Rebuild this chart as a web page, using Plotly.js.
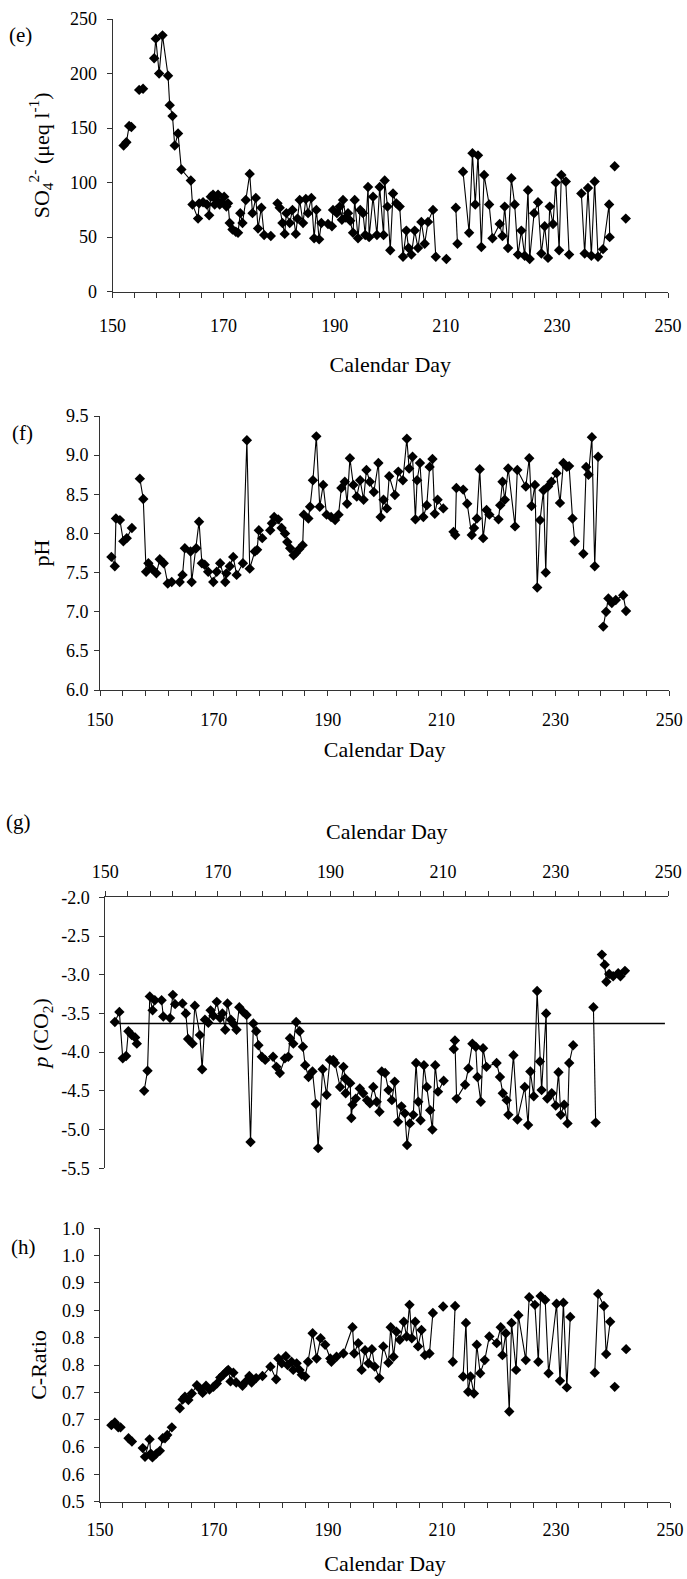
<!DOCTYPE html>
<html><head><meta charset="utf-8">
<script src="https://cdn.plot.ly/plotly-3.0.1.min.js"></script>
<style>html,body{margin:0;padding:0;background:#fff}#chart{width:687px;height:1579px}</style>
</head><body><div id="chart"></div>
<script>
// ---------- (e) sulfate ----------
const so4Day = [
 152.0,152.5,153.0,153.4,null,154.8,155.5,null,157.5,157.8,
 158.4,159.0,160.0,160.3,160.8,161.2,161.8,162.4,164.1,164.4,
 165.4,165.6,166.3,167.0,167.4,167.7,168.1,168.4,168.7,169.0,
 169.3,169.6,170.1,170.5,170.8,171.1,171.6,172.2,172.6,173.0,
 173.4,174.0,174.7,175.2,175.8,176.2,176.8,177.3,178.5,null,
 179.7,180.1,180.6,181.0,181.3,181.9,182.4,183.0,183.3,183.7,
 184.3,184.8,185.2,185.8,186.3,186.7,187.2,187.6,188.8,189.5,
 189.7,190.4,190.9,191.3,191.5,192.0,192.4,192.8,193.3,193.6,
 194.2,194.6,195.1,195.5,196.0,196.2,196.9,197.6,198.1,198.8,
 199.0,199.5,200.0,200.5,201.1,201.7,202.3,202.9,203.3,203.8,
 204.4,205.0,205.6,206.2,206.8,207.7,208.2,null,210.1,null,
 211.8,212.1,null,213.1,214.2,214.8,215.3,215.8,216.4,216.9,
 217.8,218.4,219.7,220.2,220.6,221.2,221.8,222.4,223.0,223.6,
 224.2,224.8,225.1,225.9,226.6,227.2,227.8,228.4,228.7,229.3,
 229.8,230.4,230.8,231.6,232.2,null,234.4,235.0,235.6,236.2,
 236.8,237.4,238.3,239.4,239.5,null,240.4,null,242.4
];
const so4Val = [
 134,137,152,151,null,185,186,null,214,232,
 200,235,198,171,161,134,145,112,102,80,
 67,81,82,80,70,87,89,80,84,89,
 80,82,87,78,81,63,57,55,54,72,
 63,84,108,72,86,58,77,52,51,null,
 81,77,63,53,72,63,75,53,67,84,
 63,85,72,86,49,75,48,63,62,60,
 75,72,78,66,84,68,72,65,54,84,
 49,75,72,52,96,50,87,52,96,52,
 102,78,38,90,81,78,32,56,40,34,
 56,40,64,44,64,75,32,null,30,null,
 77,44,null,110,54,127,80,125,41,107,
 80,49,62,51,78,40,104,80,34,56,
 33,93,30,72,82,35,60,31,78,62,
 100,38,107,101,34,null,90,35,95,33,
 101,32,39,80,50,null,115,null,67
];

// ---------- (f) pH ----------
const phDay = [
 152.0,152.6,152.8,153.5,154.1,154.7,155.6,null,157.0,157.6,
 158.1,158.5,159.1,159.9,160.5,161.2,161.9,162.6,164.0,164.5,
 164.9,165.9,166.1,166.9,167.4,167.9,168.4,169.0,169.9,170.5,
 171.1,172.0,172.2,172.8,173.4,174.0,175.1,175.8,176.3,177.2,
 177.6,177.9,178.5,null,179.9,180.2,180.6,181.3,181.9,182.5,
 182.9,183.4,184.0,184.4,185.0,185.6,185.8,186.6,186.9,187.4,
 188.0,188.6,189.2,189.8,190.6,191.3,191.9,192.4,193.0,193.4,
 193.9,194.5,195.1,195.7,196.3,196.8,197.4,198.1,198.9,199.3,
 199.8,200.4,200.8,201.8,202.4,203.2,203.9,204.3,204.9,205.4,
 205.7,206.2,206.8,207.4,207.9,208.4,208.8,209.3,210.3,null,
 212.1,212.4,212.6,213.8,214.5,215.3,215.7,216.2,216.7,217.3,
 217.9,218.4,220.0,220.3,220.7,221.1,221.7,222.9,223.3,224.8,
 225.4,225.8,226.4,226.8,227.3,227.9,228.3,228.7,229.3,230.2,
 230.8,231.4,232.0,232.4,233.0,233.4,null,234.9,235.4,235.8,
 236.4,236.9,237.5,null,238.4,238.9,239.3,239.9,240.6,241.9,
 242.4
];
const phVal = [
 7.70,7.58,8.19,8.17,7.90,7.94,8.07,null,8.70,8.44,
 7.51,7.62,7.55,7.49,7.67,7.62,7.36,7.38,7.38,7.47,
 7.81,7.77,7.38,7.81,8.15,7.62,7.60,7.51,7.38,7.51,
 7.62,7.38,7.49,7.58,7.70,7.47,7.62,9.19,7.55,7.77,
 7.79,8.04,7.94,null,8.04,8.13,8.21,8.18,8.07,8.00,
 7.89,7.81,7.72,7.75,7.80,7.85,8.24,8.19,8.34,8.68,
 9.24,8.34,8.62,8.24,8.21,8.17,8.24,8.58,8.66,8.38,
 8.96,8.62,8.47,8.68,8.43,8.81,8.66,8.53,8.90,8.21,
 8.43,8.32,8.73,8.49,8.79,8.68,9.21,8.83,8.98,8.18,
 8.68,8.90,8.21,8.36,8.85,8.95,8.25,8.43,8.32,null,
 8.02,7.98,8.58,8.56,8.38,7.98,8.07,8.19,8.82,7.94,
 8.30,8.24,8.18,8.36,8.66,8.43,8.83,8.09,8.81,8.60,
 8.96,8.35,8.62,7.31,8.17,8.55,7.50,8.60,8.66,8.77,
 8.39,8.90,8.85,8.86,8.19,7.90,null,7.74,8.85,8.75,
 9.23,7.58,8.98,null,6.81,7.00,7.17,7.11,7.15,7.21,
 7.01
];

// ---------- (g) p(CO2) ----------
const pco2Day = [
 151.7,152.5,153.1,153.7,154.1,154.7,155.3,155.6,null,156.9,
 157.5,157.9,158.4,158.8,160.0,160.3,161.5,162.0,162.4,163.7,
 164.3,164.7,165.5,165.9,166.8,167.2,167.7,168.3,168.7,169.2,
 169.8,170.4,170.8,171.3,171.7,172.3,172.7,173.3,173.8,174.5,
 175.1,175.8,176.3,176.8,177.2,177.8,178.4,179.8,180.4,181.0,
 181.9,182.5,182.8,183.4,183.9,184.5,185.1,185.5,186.1,186.8,
 187.4,187.8,188.6,189.3,189.9,190.5,190.8,191.7,192.3,192.6,
 192.7,193.5,193.7,193.9,194.5,195.2,195.8,196.5,197.0,197.6,
 198.2,198.7,199.1,199.7,200.3,200.9,201.4,202.0,202.6,203.2,
 203.6,204.1,204.7,205.2,205.6,206.0,206.6,207.1,207.7,208.1,
 208.6,209.1,210.1,null,211.9,212.1,212.4,213.9,214.5,215.2,
 215.8,216.1,216.7,217.1,217.7,219.5,220.1,220.6,221.3,221.6,
 222.5,223.2,224.5,225.1,225.5,226.1,226.7,227.2,227.5,228.3,
 228.5,229.3,230.0,230.5,230.9,231.5,232.1,232.4,233.1,null,
 236.7,237.1,null,238.2,238.7,239.0,239.5,240.2,241.1,241.5,
 242.3
];
const pco2Val = [
 -3.61,-3.48,-4.08,-4.05,-3.73,-3.78,-3.81,-3.89,null,-4.50,
 -4.24,-3.28,-3.46,-3.33,-3.33,-3.54,-3.56,-3.26,-3.38,-3.37,
 -3.50,-3.83,-3.89,-3.40,-3.78,-4.22,-3.58,-3.62,-3.46,-3.53,
 -3.35,-3.56,-3.50,-3.71,-3.37,-3.58,-3.63,-3.71,-3.42,-3.48,
 -3.52,-5.16,-3.63,-3.73,-3.91,-4.06,-4.10,-4.06,-4.19,-4.27,
 -4.08,-4.06,-3.82,-3.89,-3.61,-3.73,-3.93,-4.17,-4.32,-4.25,
 -4.67,-5.24,-4.22,-4.55,-4.10,-4.10,-4.14,-4.45,-4.19,-4.34,
 -4.53,-4.40,-4.85,-4.68,-4.60,-4.47,-4.53,-4.62,-4.66,-4.45,
 -4.64,-4.77,-4.25,-4.27,-4.49,-4.62,-4.38,-4.90,-4.70,-4.79,
 -5.20,-4.92,-4.81,-4.14,-4.64,-4.88,-4.17,-4.45,-4.75,-5.00,
 -4.17,-4.51,-4.37,null,-3.96,-3.85,-4.60,-4.42,-4.21,-3.89,
 -3.93,-4.32,-4.64,-3.95,-4.19,-4.14,-4.32,-4.53,-4.62,-4.81,
 -4.04,-4.87,-4.45,-4.94,-4.25,-4.57,-3.21,-4.12,-4.49,-3.50,
 -4.60,-4.53,-4.69,-4.26,-4.81,-4.68,-4.92,-4.14,-3.91,null,
 -3.42,-4.91,null,-2.74,-2.87,-3.09,-2.99,-3.02,-2.98,-3.02,
 -2.95
];
// reference level drawn across panel (g)
const pco2RefDay = [152.3, 249.4];
const pco2RefVal = [-3.63, -3.63];
const pco2TickVals = [-5.5,-5.0,-4.5,-4.0,-3.5,-3.0,-2.5,-2.0];
const pco2TickText = ['-5.5','-5.0','-4.5','-4.0','-3.5','-3.0','-2.5','-2.0'];

// ---------- (h) C-Ratio ----------
const cDay = [
 152.0,152.6,153.2,153.6,null,155.0,155.6,null,157.5,157.9,
 158.7,158.9,159.2,159.9,160.5,161.0,161.4,161.8,162.6,null,
 164.0,164.5,164.9,165.5,166.1,167.0,167.5,168.0,168.6,169.2,
 169.9,170.5,171.1,171.6,172.2,172.5,172.9,173.4,173.9,175.0,
 175.6,176.2,176.6,177.4,178.5,179.9,180.9,181.3,181.9,182.6,
 182.9,183.6,183.9,184.5,185.0,185.4,186.0,186.5,187.3,188.0,
 188.7,189.5,190.4,190.6,191.5,192.7,194.3,194.6,195.3,195.9,
 196.5,197.1,197.7,198.2,199.0,199.7,200.6,201.0,201.5,202.0,
 202.6,203.3,203.8,204.3,204.7,205.3,205.8,206.4,207.0,207.8,
 208.4,null,210.2,null,211.9,212.3,null,213.7,214.2,214.6,
 215.0,215.6,216.1,216.7,217.5,218.3,219.6,220.3,220.6,221.2,
 221.8,222.2,223.0,223.4,224.7,225.3,226.3,226.9,227.3,228.1,
 228.7,230.1,230.7,231.3,231.9,232.5,null,236.8,237.4,238.4,
 238.8,239.5,null,240.3,null,242.3
];
const cVal = [
 0.640,0.645,0.636,0.636,null,0.616,0.610,null,0.598,0.582,
 0.614,0.588,0.581,0.588,0.593,0.616,0.616,0.622,0.636,null,
 0.671,0.687,0.692,0.686,0.698,0.713,0.707,0.699,0.712,0.705,
 0.710,0.716,0.727,0.732,0.738,0.741,0.720,0.736,0.718,0.712,
 0.720,0.730,0.718,0.726,0.730,0.747,0.724,0.762,0.753,0.766,
 0.750,0.756,0.741,0.753,0.741,0.732,0.729,0.756,0.808,0.762,
 0.799,0.787,0.762,0.756,0.765,0.771,0.819,0.771,0.790,0.741,
 0.777,0.753,0.779,0.747,0.726,0.784,0.754,0.819,0.765,0.811,
 0.796,0.829,0.802,0.860,0.799,0.829,0.784,0.814,0.768,0.771,
 0.845,null,0.857,null,0.756,0.858,null,0.729,0.827,0.701,
 0.729,0.698,0.787,0.735,0.759,0.802,0.790,0.819,0.768,0.808,
 0.665,0.827,0.741,0.841,0.759,0.874,0.860,0.756,0.876,0.869,
 0.735,0.862,0.721,0.864,0.709,0.838,null,0.736,0.880,0.858,
 0.770,0.829,null,0.710,null,0.779
];
const cTickVals = [0.5,0.55,0.6,0.65,0.7,0.75,0.8,0.85,0.9,0.95,1.0];
const cTickText = ['0.5','0.6','0.6','0.7','0.7','0.8','0.8','0.9','0.9','1.0','1.0'];

const dayRange = [150, 250];
const panelLabels = ['(e)', '(f)', '(g)', '(h)'];

// ---------- styling ----------
const FONT = "'Liberation Serif', 'Times New Roman', serif";
const AX = '#333';
const W = 687, H = 1579;
const px = v => v / W;
const py = v => 1 - v / H;

function series(x, y, xa, ya) {
  return {x: x, y: y, xaxis: xa, yaxis: ya, type: 'scatter', mode: 'lines+markers',
    connectgaps: false, line: {color: '#000', width: 1.1},
    marker: {symbol: 'diamond', size: 8, color: '#000'}, hoverinfo: 'x+y', showlegend: false};
}

const traces = [
  series(so4Day, so4Val, 'x', 'y'),
  series(phDay, phVal, 'x2', 'y2'),
  {x: pco2RefDay, y: pco2RefVal, xaxis: 'x3', yaxis: 'y3', type: 'scatter', mode: 'lines',
   line: {color: '#000', width: 1.3}, showlegend: false, hoverinfo: 'skip'},
  series(pco2Day, pco2Val, 'x3', 'y3'),
  series(cDay, cVal, 'x4', 'y4')
];

function xAx(left, right, anchor, side, labelGap, standoff) {
  return {domain: [px(left), px(right)], anchor: anchor, side: side, range: dayRange,
    tick0: 150, dtick: 20, ticks: 'outside', ticklen: 5, tickcolor: AX, tickwidth: 1,
    minor: {tick0: 150, dtick: 4, ticks: 'outside', ticklen: 5, tickcolor: AX, tickwidth: 1, showgrid: false},
    showline: true, linecolor: AX, linewidth: 1, showgrid: false, zeroline: false,
    automargin: false, tickfont: {family: FONT, size: 18, color: '#000'}, ticklabelstandoff: labelGap,
    title: {text: 'Calendar Day', font: {family: FONT, size: 22, color: '#000'}, standoff: standoff}};
}
function yAx(top, bottom, anchor, range, dtick, title, labelGap, standoff) {
  return {domain: [py(bottom), py(top)], anchor: anchor, range: range, dtick: dtick, tick0: range[0],
    ticks: 'outside', ticklen: 5, tickcolor: AX, tickwidth: 1,
    showline: true, linecolor: AX, linewidth: 1, showgrid: false, zeroline: false,
    automargin: false, tickfont: {family: FONT, size: 18, color: '#000'}, ticklabelstandoff: labelGap,
    title: {text: title, font: {family: FONT, size: 22, color: '#000'}, standoff: standoff}};
}

const layout = {
  width: W, height: H, margin: {l: 0, r: 0, t: 0, b: 0},
  paper_bgcolor: '#fff', plot_bgcolor: '#fff', showlegend: false,
  font: {family: FONT, color: '#000'},
  xaxis: xAx(112.5, 668, 'y', 'bottom', 13, 21),
  yaxis: yAx(19, 291.7, 'x', [0, 250], 50, 'SO<sub>4</sub><sup>2-</sup> (\u03bceq l<sup>-1</sup>)', 6, 14),
  xaxis2: xAx(100, 669.3, 'y2', 'bottom', 8, 13),
  yaxis2: Object.assign(yAx(416, 690, 'x2', [6, 9.5], 0.5, 'pH', 2, 10), {tickformat: '.1f'}),
  xaxis3: xAx(105.3, 668.3, 'y3', 'top', 6, 16),
  yaxis3: Object.assign(yAx(897.3, 1168.3, 'x3', [-5.5, -2], 0.5, '<i>p</i> (CO<sub>2</sub>)', 6, 6),
    {tickmode: 'array', tickvals: pco2TickVals, ticktext: pco2TickText}),
  xaxis4: xAx(100, 670, 'y4', 'bottom', 7, 16),
  yaxis4: Object.assign(yAx(1228.3, 1501.7, 'x4', [0.5, 1.0], 0.05, 'C-Ratio', 6, 9),
    {tickmode: 'array', tickvals: cTickVals, ticktext: cTickText}),
  annotations: [
    [20, 35], [22, 433], [18, 822], [23, 1247]
  ].map((p, i) => ({text: panelLabels[i], x: px(p[0]), y: py(p[1]), xref: 'paper', yref: 'paper',
    xanchor: 'center', yanchor: 'middle', showarrow: false, font: {family: FONT, size: 21, color: '#000'}}))
};

Plotly.newPlot('chart', traces, layout, {staticPlot: true, displayModeBar: false});
</script></body></html>
